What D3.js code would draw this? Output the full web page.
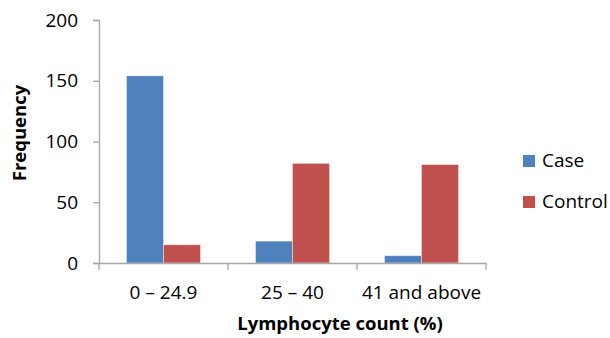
<!DOCTYPE html>
<html>
<head>
  <script src="https://cdn.jsdelivr.net/npm/d3@7"></script>
  <style>
    body { margin: 0; background: #fff; }
    text { font-family: "Open Sans", sans-serif; fill: #000; }
  </style>
</head>
<body>
  <script>
    var width = 610, height = 338;

    // data
    var categories = ["0 \u2013 24.9", "25 \u2013 40", "41 and above"];
    var caseValues = [154, 18, 6];
    var controlValues = [15, 82, 81];
    var seriesNames = ["Case", "Control"];
    var seriesColors = ["#4F81BD", "#C0504D"];
    var yTicks = [0, 50, 100, 150, 200];

    var plotLeft = 99, plotRight = 486, plotTop = 20, plotBottom = 263;
    var fontSize = "19px";
    var titleSize = "18.5px";

    var svg = d3.select("body").append("svg")
      .attr("width", width)
      .attr("height", height);

    var x = d3.scaleBand().domain(categories).range([plotLeft, plotRight]).paddingInner(0).paddingOuter(0);
    var inner = d3.scaleBand().domain(seriesNames).range([0, x.bandwidth()]).paddingInner(0).paddingOuter(0.743);
    var y = d3.scaleLinear().domain([0, 200]).range([plotBottom, plotTop]);

    var rows = categories.map(function(c, i) {
      return {cat: c, vals: [caseValues[i], controlValues[i]]};
    });

    // bars
    var groups = svg.append("g").selectAll("g")
      .data(rows)
      .enter().append("g")
      .attr("transform", d => "translate(" + x(d.cat) + ",0)");

    groups.selectAll("rect")
      .data(d => d.vals.map((v, j) => ({name: seriesNames[j], v: v, j: j})))
      .enter().append("rect")
      .attr("x", d => inner(d.name))
      .attr("width", inner.bandwidth())
      .attr("y", d => y(d.v))
      .attr("height", d => plotBottom - y(d.v))
      .attr("fill", d => seriesColors[d.j])
      .attr("stroke", "#ffffff")
      .attr("stroke-opacity", 0.5)
      .attr("stroke-width", 0.8);

    // y axis
    var yAxis = svg.append("g")
      .attr("transform", "translate(" + plotLeft + ",0)")
      .call(d3.axisLeft(y).tickValues(yTicks).tickSize(6).tickPadding(15));
    yAxis.select(".domain").attr("stroke", "#A6A6A6").attr("stroke-width", 1.3);
    yAxis.selectAll(".tick line").attr("stroke", "#A6A6A6").attr("stroke-width", 1.3);
    yAxis.selectAll("text").style("font-size", fontSize).style("font-family", "'Open Sans', sans-serif");

    // x axis
    var xAxis = svg.append("g")
      .attr("transform", "translate(0," + plotBottom + ")")
      .call(d3.axisBottom(x).tickSize(0).tickPadding(23));
    xAxis.select(".domain").attr("stroke", "#A6A6A6").attr("stroke-width", 1.3);
    xAxis.selectAll("text").style("font-size", fontSize).style("font-family", "'Open Sans', sans-serif");

    // x axis tick marks at category boundaries
    var bounds = categories.map(c => x(c)).concat([plotRight]);
    svg.append("g").selectAll("line")
      .data(bounds)
      .enter().append("line")
      .attr("x1", d => d).attr("x2", d => d)
      .attr("y1", plotBottom).attr("y2", plotBottom + 7)
      .attr("stroke", "#A6A6A6")
      .attr("stroke-width", 1.3);

    // axis titles
    svg.append("text")
      .attr("x", 340)
      .attr("y", 330)
      .attr("text-anchor", "middle")
      .style("font-size", titleSize)
      .style("font-weight", "bold")
      .text("Lymphocyte count (%)");

    svg.append("text")
      .attr("transform", "translate(26,133) rotate(-90)")
      .attr("text-anchor", "middle")
      .style("font-size", titleSize)
      .style("font-weight", "bold")
      .text("Frequency");

    // legend
    var legend = svg.append("g").selectAll("g")
      .data(seriesNames)
      .enter().append("g")
      .attr("transform", (d, i) => "translate(523," + (155 + i * 41) + ")");
    legend.append("rect")
      .attr("width", 12).attr("height", 12)
      .attr("fill", (d, i) => seriesColors[i]);
    legend.append("text")
      .attr("x", 19).attr("y", 12)
      .style("font-size", fontSize)
      .text(d => d);
  </script>
</body>
</html>
